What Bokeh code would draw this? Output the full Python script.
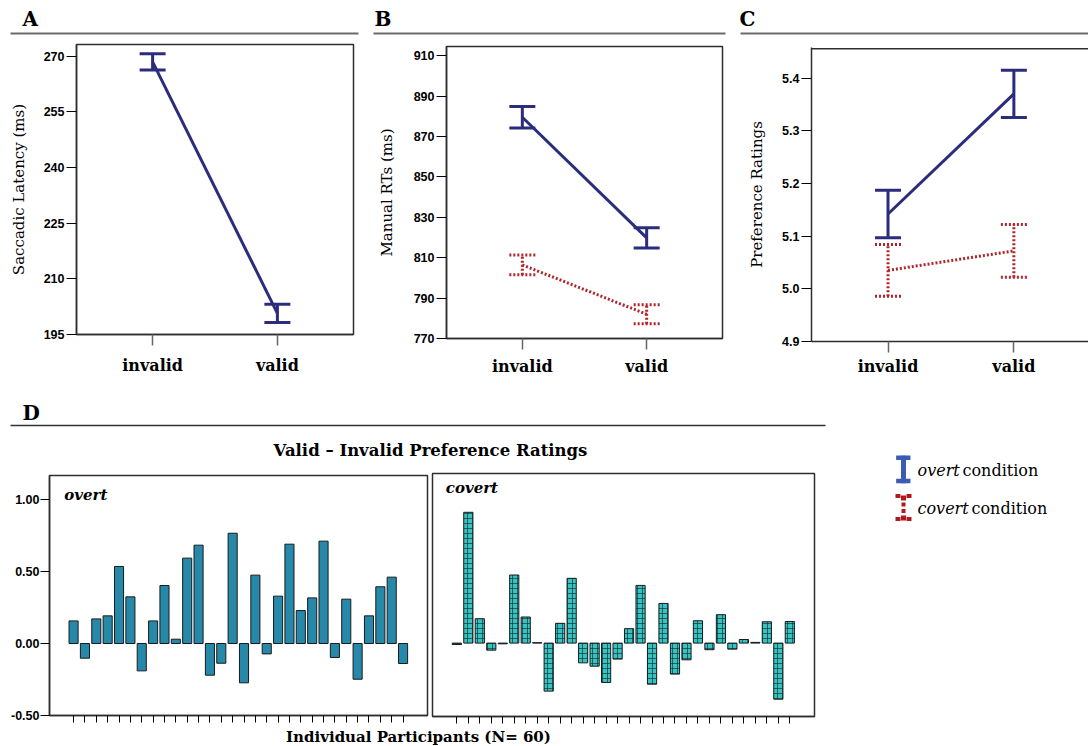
from bokeh.plotting import figure
from bokeh.layouts import row, column
from bokeh.models import Range1d, FixedTicker, Whisker, TeeHead, ColumnDataSource, Span
from bokeh.core.properties import value
from bokeh.embed import file_html
from bokeh.resources import INLINE

SERIF = "DejaVu Serif"
SANS = "Liberation Sans"
NAVY = "#2b2d7c"
RED = "#b0242a"
FRAME = "#2e2e2e"
RULE = "#6b6b6b"

# ---------------- data ----------------
conditions = ["invalid", "valid"]
cond_pos = [1, 2]

saccade_overt_mean = [268.4, 200.7]
saccade_overt_se = [2.2, 2.45]

rt_overt_mean = [879.5, 819.8]
rt_overt_se = [5.3, 5.0]
rt_covert_mean = [806.4, 782.0]
rt_covert_se = [4.9, 4.65]

pref_overt_mean = [5.142, 5.370]
pref_overt_se = [0.045, 0.045]
pref_covert_mean = [5.035, 5.072]
pref_covert_se = [0.049, 0.050]

ticks_A = [195, 210, 225, 240, 255, 270]
ticks_B = [770, 790, 810, 830, 850, 870, 890, 910]
ticks_C = [4.9, 5.0, 5.1, 5.2, 5.3, 5.4]
tick_labels_C = ["4.9", "5.0", "5.1", "5.2", "5.3", "5.4"]

participants = list(range(1, 31))
overt_diff = [0.157, -0.102, 0.171, 0.192, 0.535, 0.324, -0.19, 0.157, 0.403, 0.03,
              0.593, 0.683, -0.22, -0.137, 0.766, -0.273, 0.475, -0.072, 0.329, 0.69,
              0.229, 0.317, 0.711, -0.097, 0.308, -0.248, 0.192, 0.394, 0.461, -0.139]
covert_diff = [-0.01, 0.907, 0.169, -0.049, -0.005, 0.472, 0.181, 0.003, -0.333, 0.137,
               0.449, -0.137, -0.16, -0.273, -0.111, 0.1, 0.4, -0.285, 0.275, -0.215,
               -0.116, 0.155, -0.046, 0.197, -0.042, 0.025, 0.005, 0.148, -0.389, 0.15]
ticks_D = [-0.5, 0.0, 0.5, 1.0]
tick_labels_D = ["-0.50", "0.00", "0.50", "1.00"]

panel_letters = ["A", "B", "C"]

COMMON = dict(output_backend="svg", toolbar_location=None, frame_align=False)


def deco_fig(w, h, x0, x1, y0, y1):
    p = figure(width=w, height=h, x_range=Range1d(x0, x1), y_range=Range1d(y1, y0),
               x_axis_type=None, y_axis_type=None,
               min_border=0, min_border_left=0, min_border_right=0, min_border_top=0, min_border_bottom=0,
               **COMMON)
    p.outline_line_color = None
    p.grid.visible = False
    return p


def style_y(ax, ticks, labels):
    ax.ticker = FixedTicker(ticks=ticks)
    if labels is not None:
        ax.major_label_overrides = {t: l for t, l in zip(ticks, labels)}
    ax.major_label_text_font = SANS
    ax.major_label_text_font_style = "bold"
    ax.major_label_text_font_size = "12.5px"
    ax.major_label_text_color = "black"
    ax.major_tick_out = 10
    ax.major_tick_in = 0
    ax.major_tick_line_color = "black"
    ax.major_tick_line_width = 1.2
    ax.minor_tick_line_color = None
    ax.major_label_standoff = 2
    ax.axis_line_color = FRAME
    ax.axis_line_width = 1.5


def line_panel(w, h, bl, br, bt, bb, xr, yr, yticks, ylabels, ylabel, xstand, ystand, series, right_edge=True):
    p = figure(width=w, height=h, x_range=Range1d(*xr), y_range=Range1d(*yr),
               min_border_left=bl, min_border_right=br, min_border_top=bt, min_border_bottom=bb,
               **COMMON)
    p.grid.visible = False
    p.outline_line_color = FRAME if right_edge else None
    p.outline_line_width = 1.5
    for mean, se, color, dash in series:
        src = ColumnDataSource(dict(x=cond_pos, m=mean,
                                    lo=[m - s for m, s in zip(mean, se)],
                                    hi=[m + s for m, s in zip(mean, se)]))
        p.line("x", "m", source=src, line_color=color, line_width=3, line_dash=dash)
        wh = Whisker(source=src, base="x", upper="hi", lower="lo", line_color=color, line_width=3,
                     line_dash=dash,
                     upper_head=TeeHead(size=26, line_color=color, line_width=3, line_dash=dash),
                     lower_head=TeeHead(size=26, line_color=color, line_width=3, line_dash=dash))
        p.add_layout(wh)
    xa = p.xaxis[0]
    xa.ticker = FixedTicker(ticks=cond_pos)
    xa.major_label_overrides = {k: v for k, v in zip(cond_pos, conditions)}
    xa.major_label_text_font = SERIF
    xa.major_label_text_font_style = "bold"
    xa.major_label_text_font_size = "16px"
    xa.major_label_text_color = "black"
    xa.major_tick_out = 11
    xa.major_tick_in = 0
    xa.major_tick_line_color = "#666666"
    xa.major_tick_line_width = 1.5
    xa.minor_tick_line_color = None
    xa.major_label_standoff = xstand
    xa.axis_line_color = FRAME
    xa.axis_line_width = 1.5
    ya = p.yaxis[0]
    style_y(ya, yticks, ylabels)
    ya.axis_label = ylabel
    ya.axis_label_text_font = SERIF
    ya.axis_label_text_font_style = "normal"
    ya.axis_label_text_font_size = "15px"
    ya.axis_label_text_color = "black"
    ya.axis_label_standoff = ystand
    if not right_edge:
        # top edge of the frame only (the right edge is cut off in the original)
        p.add_layout(Span(location=yr[1] - (yr[1] - yr[0]) * 0.004, dimension="width",
                          line_color=FRAME, line_width=1.5))
    return p


# ---------------- top row ----------------
top_head = deco_fig(1088, 40, 0, 1088, 0, 40)
top_head.text(x=[22, 374, 739], y=[18, 18, 18], text=panel_letters, text_font=value(SERIF),
              text_font_style="bold", text_font_size="20px", text_baseline="middle",
              text_color="black")
top_head.segment(x0=[10, 373, 740], y0=[33, 33, 33], x1=[358, 725, 1088], y1=[33, 33, 33],
                 line_color=RULE, line_width=2)

pA = line_panel(365, 340, 76, 12, 4, 46, (0.39, 2.61), (195, 273.1), ticks_A, None,
                "Saccadic Latency (ms)", 10, 13,
                [(saccade_overt_mean, saccade_overt_se, NAVY, "solid")])
pB = line_panel(370, 340, 81, 13, 6, 42, (0.39, 2.61), (770, 914.5), ticks_B, None,
                "Manual RTs (ms)", 7, 15,
                [(rt_overt_mean, rt_overt_se, NAVY, "solid"),
                 (rt_covert_mean, rt_covert_se, RED, "2 2")])
pC = line_panel(353, 340, 76, 0, 7, 39, (0.392, 2.593), (4.9, 5.458), ticks_C, tick_labels_C,
                "Preference Ratings", 4, 13,
                [(pref_overt_mean, pref_overt_se, NAVY, "solid"),
                 (pref_covert_mean, pref_covert_se, RED, "2 2")], right_edge=False)

top = column(top_head, row(pA, pB, pC))

# ---------------- panel D ----------------
d_head = deco_fig(830, 80, 0, 830, 380, 460)
d_head.text(x=[22], y=[412], text=["D"], text_font=value(SERIF), text_font_style="bold",
            text_font_size="20px", text_baseline="middle", text_color="black")
d_head.segment(x0=[10], y0=[425], x1=[825], y1=[425], line_color="#333333", line_width=1.5)
d_head.text(x=[430], y=[449.5], text=["Valid \u2013 Invalid Preference Ratings"], text_font=value(SERIF),
            text_font_style="bold", text_font_size="16.5px", text_baseline="middle",
            text_align="center", text_color="black")


def bar_panel(w, h, bl, br, bt, bb, yr, values, show_y, hatch):
    p = figure(width=w, height=h, x_range=Range1d(-1.12, 32.15), y_range=Range1d(*yr),
               min_border_left=bl, min_border_right=br, min_border_top=bt, min_border_bottom=bb,
               **COMMON)
    p.grid.visible = False
    p.outline_line_color = FRAME
    p.outline_line_width = 1.5
    if hatch:
        p.vbar(x=participants, top=values, bottom=0, width=0.8, fill_color="#38c3c3",
               line_color="#1a1a1a", line_width=1, hatch_pattern="cross", hatch_scale=5,
               hatch_color="#0d2e2e", hatch_weight=1, hatch_alpha=0.65)
    else:
        p.vbar(x=participants, top=values, bottom=0, width=0.8, fill_color="#2789aa",
               line_color="#1a1a1a", line_width=1)
    xa = p.xaxis[0]
    xa.ticker = FixedTicker(ticks=participants)
    xa.major_label_text_font_size = "0px"
    xa.major_label_standoff = 0
    xa.major_tick_out = 7
    xa.major_tick_in = 0
    xa.major_tick_line_color = "black"
    xa.major_tick_line_width = 1
    xa.minor_tick_line_color = None
    xa.axis_line_color = FRAME
    xa.axis_line_width = 1.5
    if show_y:
        ya = p.yaxis[0]
        style_y(ya, ticks_D, tick_labels_D)
        ya.major_tick_out = 9
        ya.major_label_standoff = 1
    else:
        p.yaxis.visible = False
    return p


pO = bar_panel(429, 266, 49, 2, 15, 11, (-0.5, 1.167), overt_diff, True, False)
pO.text(x=[0.18], y=[1.034], text=["overt"], text_font=value(SERIF), text_font_style="bold italic",
        text_font_size="15px", text_baseline="middle", text_color="black")
pV = bar_panel(401, 266, 3, 16, 13, 10, (-0.509, 1.176), covert_diff, False, True)
pV.text(x=[0.04], y=[1.076], text=["covert"], text_font=value(SERIF), text_font_style="bold italic",
        text_font_size="15px", text_baseline="middle", text_color="black")

d_foot = deco_fig(830, 20, 0, 830, 726, 746)
d_foot.text(x=[418], y=[736], text=["Individual Participants (N= 60)"], text_font=value(SERIF),
            text_font_style="bold", text_font_size="15px", text_baseline="middle",
            text_align="center", text_color="black")

d_col = column(d_head, row(pO, pV), d_foot)

# ---------------- legend ----------------
leg = deco_fig(258, 366, 830, 1088, 380, 746)
leg.rect(x=[902.8, 903, 902.8], y=[457.3, 469, 480.4], width=[14.3, 5, 14.3], height=[4.5, 27.7, 4.5],
         fill_color="#3c5bb4", line_color=None)
leg.rect(x=[897.5, 903, 908.5, 903, 903, 897.5, 903, 908.5],
         y=[495.5, 497.5, 495.5, 504, 510.5, 518.5, 517.5, 518.5],
         width=[5, 5, 5, 4, 4, 5, 5, 5], height=[4, 5, 4, 4, 4, 4, 5, 4],
         fill_color="#b0191e", line_color=None)
leg.text(x=[917, 917], y=[469.5, 507.5], text=["overt", "covert"], text_font=value(SERIF),
         text_font_style="italic", text_font_size="16px", text_baseline="middle", text_color="black")
leg.text(x=[962, 971], y=[469.5, 507.5], text=["condition", "condition"], text_font=value(SERIF),
         text_font_style="normal", text_font_size="16px", text_baseline="middle", text_color="black")

bottom = row(d_col, leg)
layout = column(top, bottom)

open("out.html", "w").write(file_html(layout, INLINE))
